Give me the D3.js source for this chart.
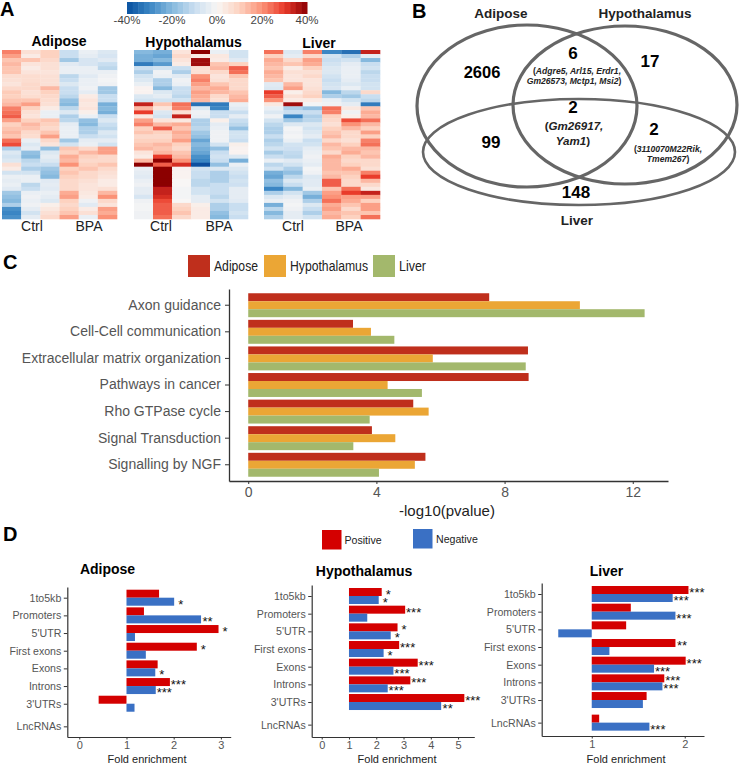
<!DOCTYPE html>
<html><head><meta charset="utf-8">
<script src="https://cdn.jsdelivr.net/npm/d3@7"></script>
<style>html,body{margin:0;padding:0;background:#fff}svg{display:block}text{font-family:"Liberation Sans",Arial,sans-serif}</style>
</head><body><svg id="c" width="739" height="764"></svg>
<script>
// ---------- data ----------
const heatAdipose=[[22,6,10,-10,-3,-6],[18,3,10,-10,-4,-7],[12,12,8,-16,-7,-5],[14,5,6,-5,-7,-10],[12,3,6,-3,-3,-12],[12,5,5,-3,-3,-3],[7,7,6,-12,-5,-2],[6,7,6,-10,-3,-1],[5,8,6,-6,-3,-2],[8,8,14,-10,-2,-16],[11,6,10,-10,-4,-16],[10,7,8,-12,3,-10],[12,12,7,-18,5,-10],[14,18,6,-20,4,-22],[22,10,3,-12,5,-20],[24,6,-3,-6,2,-22],[26,5,-3,-14,-3,-10],[18,10,12,-12,-18,-6],[10,14,10,-4,-20,-10],[12,12,8,-3,-14,-12],[14,8,12,-3,-14,-6],[12,7,18,-3,-10,-8],[24,-3,8,-16,-4,-4],[28,-6,5,-8,-3,-8],[-14,-4,-18,12,8,18],[-6,-18,-6,10,14,18],[-8,-20,-4,16,10,8],[-6,-12,-6,14,8,8],[6,-10,-10,20,10,12],[3,-14,-16,10,12,8],[-8,-8,-18,12,8,6],[-3,-3,-20,10,8,5],[-4,-3,-5,8,6,3],[-3,-12,-4,8,5,3],[-5,-10,-5,8,5,6],[-16,-3,-3,16,4,14],[-18,-2,-4,18,3,20],[-20,-3,-6,10,-2,8],[-14,-2,2,8,-5,5],[-28,-4,4,10,3,18],[-30,-8,6,12,6,16],[-28,-4,8,18,-3,20]];
const heatHypothalamus=[[-20,-22,5,40,-3,-8],[-22,-24,8,3,4,-8],[-22,-20,5,38,3,-5],[-32,-26,3,38,12,10],[-10,-8,-10,6,14,26],[-14,-2,-14,6,8,24],[-8,-3,-5,20,5,12],[-6,-14,-2,22,6,8],[-3,-14,-3,18,12,8],[1,-20,-10,14,16,8],[1,-6,-10,18,14,12],[-6,-4,-12,16,8,14],[-8,-8,-8,14,6,16],[34,12,24,-34,-32,-3],[14,5,22,-6,-30,-5],[30,-6,6,-2,-10,-10],[4,-8,34,-3,-10,-4],[18,5,4,-14,2,-10],[22,14,16,-14,-4,-12],[10,26,12,-12,-3,-18],[12,10,16,-16,-2,-8],[8,8,14,-18,-2,-8],[10,10,18,-24,-2,-10],[12,14,10,-20,-8,2],[14,12,8,-22,-18,1],[5,14,12,-24,-10,1],[3,30,14,-28,-8,-6],[14,40,20,-30,-10,-22],[40,26,32,-40,-18,-3],[-3,40,1,-8,-6,-6],[-4,40,1,-10,-14,-8],[-5,40,1,-10,-14,-10],[-3,40,0,-12,-14,-8],[-2,40,0,-12,-10,-9],[-4,34,-1,-8,-10,-4],[-4,34,-1,-8,-10,-4],[-7,32,-1,-4,-12,-4],[-2,28,0,-4,-8,-5],[-1,26,8,2,-14,-10],[-1,26,10,3,-14,-10],[-2,26,12,3,-18,-8],[-2,24,8,3,-20,-10]];
const heatLiver=[[24,-6,22,-30,-34,34],[10,-4,8,-8,-14,-4],[16,8,18,-10,-8,-20],[14,12,16,-8,-4,-10],[12,3,10,-6,-3,-8],[16,6,6,-6,-3,-12],[14,5,8,-8,-3,-10],[12,5,5,-10,-4,-10],[-5,14,5,-8,-6,-8],[-6,18,6,-7,-3,-8],[30,2,8,-20,-12,8],[26,6,10,-14,-16,-10],[20,3,3,-3,-8,-12],[4,38,-1,-2,-4,-32],[-3,-14,-18,24,4,12],[-6,-10,-10,22,-2,16],[-2,-30,-14,10,2,14],[-8,-16,-12,8,28,24],[-12,-6,-6,6,20,14],[-14,-1,-8,10,14,10],[-14,-2,-6,12,8,18],[-10,-1,-4,14,8,10],[-14,-3,-10,8,6,22],[-12,-8,-8,14,10,24],[-8,-9,-4,12,14,14],[-15,-11,-3,8,16,12],[-10,-12,-2,16,10,14],[-3,-5,-3,14,8,8],[-12,-8,-4,14,10,8],[-8,-14,-1,14,16,6],[-22,-18,-2,12,12,22],[-24,-12,-6,14,10,30],[-18,-6,-5,26,8,14],[-20,-10,-5,26,8,8],[-30,-20,-3,12,24,4],[-14,-8,-16,18,30,34],[-6,-4,-22,20,18,18],[-3,-2,-14,24,16,10],[-22,-1,-6,16,12,18],[-12,-2,-10,18,8,18],[-20,-4,-14,14,12,12],[-14,-4,-8,16,10,24]];
const colorStops=[-40,-30,-20,-10,0,10,20,30,40];
const colorValues=["#08509f","#3a86c4","#86b9de","#c9def0","#f8f6f5","#fdd2c0","#fb9277","#e93a2a","#8c0004"];
const colorTicks=[-40,-20,0,20,40];

const pathways=["Axon guidance","Cell-Cell communication","Extracellular matrix organization","Pathways in cancer","Rho GTPase cycle","Signal Transduction","Signalling by NGF"];
const tissues=["Adipose","Hypothalamus","Liver"];
const tissueColors=["#bf2f1c","#eba635","#a3b86c"];
const pAdipose=[7.52,3.27,8.73,8.75,5.15,3.86,5.53];
const pHypothalamus=[10.35,3.83,5.76,4.35,5.63,4.59,5.2];
const pLiver=[12.37,4.56,8.66,5.42,3.79,3.28,4.08];
const pTicks=[0,4,8,12];

const regions=["1to5kb","Promoters","5'UTR","First exons","Exons","Introns","3'UTRs","LncRNAs"];
const regionTrack=[0,1,2,3,4,5,6,7.28];
const posAdipose=[1.69,1.37,2.95,2.49,1.66,1.92,0.41,null];
const negAdipose=[2.01,2.58,1.18,1.41,1.61,1.62,1.17,null];
const posStarsAdipose=["","","*","*","","***","",""];
const negStarsAdipose=["*","**","","","*","***","",""];
const posHypo=[2.2,3.06,2.78,2.84,3.52,3.25,5.23,null];
const negHypo=[2.09,1.67,2.53,2.27,2.63,2.42,4.38,null];
const posStarsHypo=["*","***","*","***","***","***","***",""];
const negStarsHypo=["*","","*","*","***","***","**",""];
const posLiver=[2.04,1.42,1.37,1.90,2.01,1.78,1.59,1.08];
const negLiver=[1.87,1.90,0.64,1.19,1.67,1.76,1.55,1.62];
const posStarsLiver=["***","","","**","***","***","",""];
const negStarsLiver=["***","***","","","***","***","","***"];
const signs=["Positive","Negative"];
const signColors=["#d40000","#3a70c4"];

// ---------- drawing ----------
const svg=d3.select("#c");
const BLACK="#000",GREY="#555";
function T(x,y,s,o={}){
  const t=svg.append("text").attr("x",x).attr("y",y).text(s)
    .attr("font-size",o.size||12).attr("fill",o.fill||BLACK)
    .attr("font-weight",o.bold?"bold":"normal").attr("font-style",o.italic?"italic":"normal")
    .attr("text-anchor",o.anchor||"middle");
  if(o.len) t.attr("textLength",o.len).attr("lengthAdjust","spacingAndGlyphs");
  return t;
}
[["A",0,16,20],["B",412,17.5,20],["C",3,269,20],["D",3,541,20]].forEach(d=>T(d[1],d[2],d[0],{size:d[3],bold:true,anchor:"start"}));

// Panel A
const color=d3.scaleLinear().domain(colorStops).range(colorValues).clamp(true);
const cbX=d3.scaleLinear().domain([-40,40]).range([127,307]);
const cbSteps=d3.range(-40,40,2.5);
svg.append("g").selectAll("rect").data(cbSteps).join("rect")
  .attr("x",d=>cbX(d)).attr("width",d=>cbX(d+2.5)-cbX(d)+.5).attr("y",2).attr("height",12)
  .attr("fill",d=>color(d+1.25));
colorTicks.forEach(v=>T(cbX(v),24,v+"%",{size:11.5,fill:"#444"}));

const blur=svg.append("defs").append("filter").attr("id","soft").attr("x","-2%").attr("y","-2%").attr("width","104%").attr("height","104%");
blur.append("feGaussianBlur").attr("stdDeviation",.45);
function heat(rows,x0,x1,title,titleX,titleY,ctrlX,bpaX){
  const gx=d3.scaleBand().domain(d3.range(6)).range([x0,x1]);
  const gy=d3.scaleBand().domain(d3.range(rows.length)).range([50,219]);
  const g=svg.append("g").attr("filter","url(#soft)");
  rows.forEach((r,i)=>g.selectAll(null).data(r).join("rect")
    .attr("x",(d,j)=>gx(j)).attr("y",gy(i)).attr("width",gx.bandwidth()+.3).attr("height",gy.bandwidth()+.3)
    .attr("fill",d=>color(d)));
  T(titleX,titleY,title,{size:14,bold:true});
  T(ctrlX,231,"Ctrl",{size:14,fill:"#222"});
  T(bpaX,231,"BPA",{size:14,fill:"#222"});
}
heat(heatAdipose,2,117,"Adipose",59,46,32,89);
heat(heatHypothalamus,134,248,"Hypothalamus",193.5,47,161,219);
heat(heatLiver,264,380,"Liver",319,48,293,349);

// Panel B
[[527,106,110,81,3.2],[625,105,112,79,3.2],[579,152,156,53,2.6]].forEach(e=>
  svg.append("ellipse").attr("cx",e[0]).attr("cy",e[1]).attr("rx",e[2]).attr("ry",e[3])
   .attr("fill","none").attr("stroke","#666").attr("stroke-width",e[4]));
T(501,18,"Adipose",{size:13.5,bold:true,fill:"#222"});
T(645,18,"Hypothalamus",{size:13.5,bold:true,fill:"#222"});
T(577,225,"Liver",{size:13.5,bold:true,fill:"#222"});
T(482,78,"2606",{size:16.5,bold:true});
T(573,59,"6",{size:17,bold:true});
T(650,67,"17",{size:17,bold:true});
T(573,113,"2",{size:17,bold:true});
T(491,148,"99",{size:17,bold:true});
T(654,135,"2",{size:17,bold:true});
T(576,198,"148",{size:17,bold:true});
function geneLine(x,y,size,parts){
  const t=T(x,y,"",{size:size,bold:true,fill:"#222"});
  parts.forEach(p=>t.append("tspan").attr("font-style",p[1]?"italic":"normal").text(p[0]));
}
geneLine(577,74,8.6,[["(",0],["Adgre5, Arl15, Erdr1,",1]]);
geneLine(574,84,8.6,[["Gm26573, Mctp1, Msi2",1],[")",0]]);
geneLine(574,130,11.6,[["(",0],["Gm26917,",1]]);
geneLine(573,145,11.6,[["Yam1",1],[")",0]]);
geneLine(668,152,8.6,[["(",0],["3110070M22Rik,",1]]);
geneLine(668,162,8.6,[["Tmem267",1],[")",0]]);

// Panel C
const cx=d3.scaleLinear().domain([-0.6,13.1]).range([229,668]);
const cy=d3.scaleBand().domain(pathways).range([289,481]).paddingInner(.1).paddingOuter(.16);
const cy2=d3.scaleBand().domain(tissues).range([0,cy.bandwidth()]);
[pAdipose,pHypothalamus,pLiver].forEach((vals,k)=>{
  svg.append("g").selectAll("rect").data(vals).join("rect")
    .attr("x",cx(0)).attr("width",d=>cx(d)-cx(0))
    .attr("y",(d,i)=>cy(pathways[i])+cy2(tissues[k])).attr("height",cy2.bandwidth())
    .attr("fill",tissueColors[k]);
});
function styleAxis(g,size,width){
  g.selectAll("path").attr("stroke","#333").attr("stroke-width",width||1.3);
  g.selectAll("line").attr("stroke","#333").attr("stroke-width",1);
  g.selectAll("text").attr("fill",GREY).attr("font-size",size).attr("font-family",'"Liberation Sans",Arial,sans-serif');
}
styleAxis(svg.append("g").attr("transform","translate(229,0)").call(d3.axisLeft(cy).tickSize(4).tickPadding(4).tickSizeOuter(0)),14);
styleAxis(svg.append("g").attr("transform","translate(0,481)").call(d3.axisBottom(cx).tickValues(pTicks).tickSize(3).tickSizeOuter(0).tickFormat(d3.format("d"))),14);
T(447,516,"-log10(pvalue)",{size:15,fill:"#222"});
const legC=[[188,214,44],[264,290,78],[373,399,27]];
tissues.forEach((t,k)=>{
  svg.append("rect").attr("x",legC[k][0]).attr("y",255).attr("width",22).attr("height",22).attr("fill",tissueColors[k]);
  T(legC[k][1],271,t,{size:14,anchor:"start",fill:"#222",len:legC[k][2]});
});

// Panel D
const dLeg=[[322,530,344.5],[413,529,436]];
signs.forEach((s,k)=>{
  svg.append("rect").attr("x",dLeg[k][0]).attr("y",dLeg[k][1]).attr("width",19.5).attr("height",19.5).attr("fill",signColors[k]);
  T(dLeg[k][2],dLeg[k][1]+14,s,{size:10.6,anchor:"start",fill:"#222"});
});
function enrich(o){
  const x=d3.scaleLinear().domain(o.xd).range(o.xr);
  const step=17.67;
  const y=d3.scaleLinear().domain([(o.yr[0]-o.y0)/step,(o.yr[1]-o.y0)/step]).range(o.yr);
  const h=8;
  [[o.pos,o.posS,-h],[o.neg,o.negS,0]].forEach((s,k)=>{
    regions.forEach((r,i)=>{
      const v=s[0][i]; if(v==null) return;
      const yy=y(regionTrack[i])+s[2];
      svg.append("rect").attr("x",Math.min(x(1),x(v))).attr("width",Math.abs(x(v)-x(1)))
        .attr("y",yy).attr("height",h).attr("fill",signColors[k]);
      if(s[1][i]) T(x(v)+(s[1][i].length==3?8.5:6.5),yy+11,s[1][i],{size:13,fill:"#111"});
    });
  });
  styleAxis(svg.append("g").attr("transform",`translate(${o.xr[0]},0)`).call(
    d3.axisLeft(y).tickValues(regionTrack).tickSize(3.5).tickPadding(2.5).tickSizeOuter(0).tickFormat((d,i)=>regions[i])),10.6,1.2);
  styleAxis(svg.append("g").attr("transform",`translate(0,${o.yr[1]})`).call(
    d3.axisBottom(x).tickValues(o.ticks).tickSize(2.5).tickPadding(2).tickSizeOuter(0).tickFormat(d3.format("d"))),11,1.2);
  T(o.tx,o.ty,o.title,{size:14,bold:true});
  T(o.fx,762.5,"Fold enrichment",{size:11,fill:"#222"});
}
enrich({xd:[-0.254,3.208],xr:[67.3,230.7],yr:[587,737],y0:597.7,pos:posAdipose,neg:negAdipose,posS:posStarsAdipose,negS:negStarsAdipose,ticks:[0,1,2,3],title:"Adipose",tx:107.5,ty:574,fx:147});
enrich({xd:[-0.367,5.595],xr:[311.7,474.3],yr:[585,737],y0:596,pos:posHypo,neg:negHypo,posS:posStarsHypo,negS:negStarsHypo,ticks:[0,1,2,3,4,5],title:"Hypothalamus",tx:364,ty:576,fx:397});
enrich({xd:[0.462,2.207],xr:[541.7,704],yr:[583,736],y0:594,pos:posLiver,neg:negLiver,posS:posStarsLiver,negS:negStarsLiver,ticks:[1,2],title:"Liver",tx:606.5,ty:576,fx:626});
</script></body></html>
